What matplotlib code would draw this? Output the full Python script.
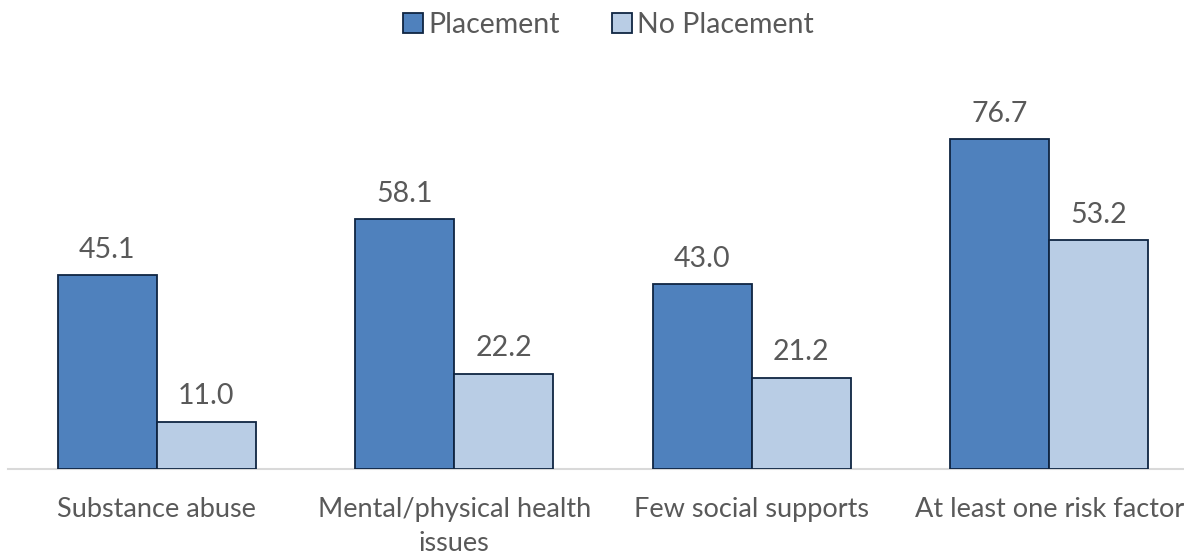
import numpy as np
import matplotlib.pyplot as plt

categories = ["Substance abuse", "Mental/physical health\nissues",
              "Few social supports", "At least one risk factor"]
placement = [45.1, 58.1, 43.0, 76.7]
no_placement = [11.0, 22.2, 21.2, 53.2]

plt.rcParams['font.family'] = ['Lato', 'DejaVu Sans']
text_color = "#595959"

fig = plt.figure(figsize=(11.84, 5.54), dpi=100)
ax = fig.add_axes([0.0068, 0.1534, 1.005, 0.6986])

x = np.arange(len(categories))
w = 1 / 3
b1 = ax.bar(x - w / 2, placement, w, color="#4F81BD", edgecolor="#0F2542",
            linewidth=1.3, label="Placement")
b2 = ax.bar(x + w / 2, no_placement, w, color="#B9CDE5", edgecolor="#0F2542",
            linewidth=1.3, label="No Placement")

for bars, vals in ((b1, placement), (b2, no_placement)):
    for bar, v in zip(bars, vals):
        ax.annotate(f"{v:.1f}", (bar.get_x() + bar.get_width() / 2, v),
                    xytext=(0, 9), textcoords="offset points",
                    ha="center", va="bottom", fontsize=20.5, color=text_color)

ax.set_xlim(-0.5, len(categories) - 0.5)
ax.set_ylim(0, 90)
ax.set_yticks([])
ax.set_xticks(x)
ax.set_xticklabels(categories, fontsize=19.5, color=text_color, linespacing=1.45)
ax.tick_params(axis="x", length=0, pad=20)
for s in ("left", "right", "top"):
    ax.spines[s].set_visible(False)
ax.spines["bottom"].set_color("#D9D9D9")
ax.spines["bottom"].set_linewidth(1.5)
ax.spines["bottom"].set_zorder(0)

leg = fig.legend(handles=[b1, b2], loc="upper center", bbox_to_anchor=(0.514, 1.025),
                 ncol=2, frameon=False, fontsize=20.5, handlelength=0.7,
                 handleheight=0.7, handletextpad=0.2, columnspacing=1.8)
for t in leg.get_texts():
    t.set_color(text_color)

fig.savefig("out.png", dpi=100)
